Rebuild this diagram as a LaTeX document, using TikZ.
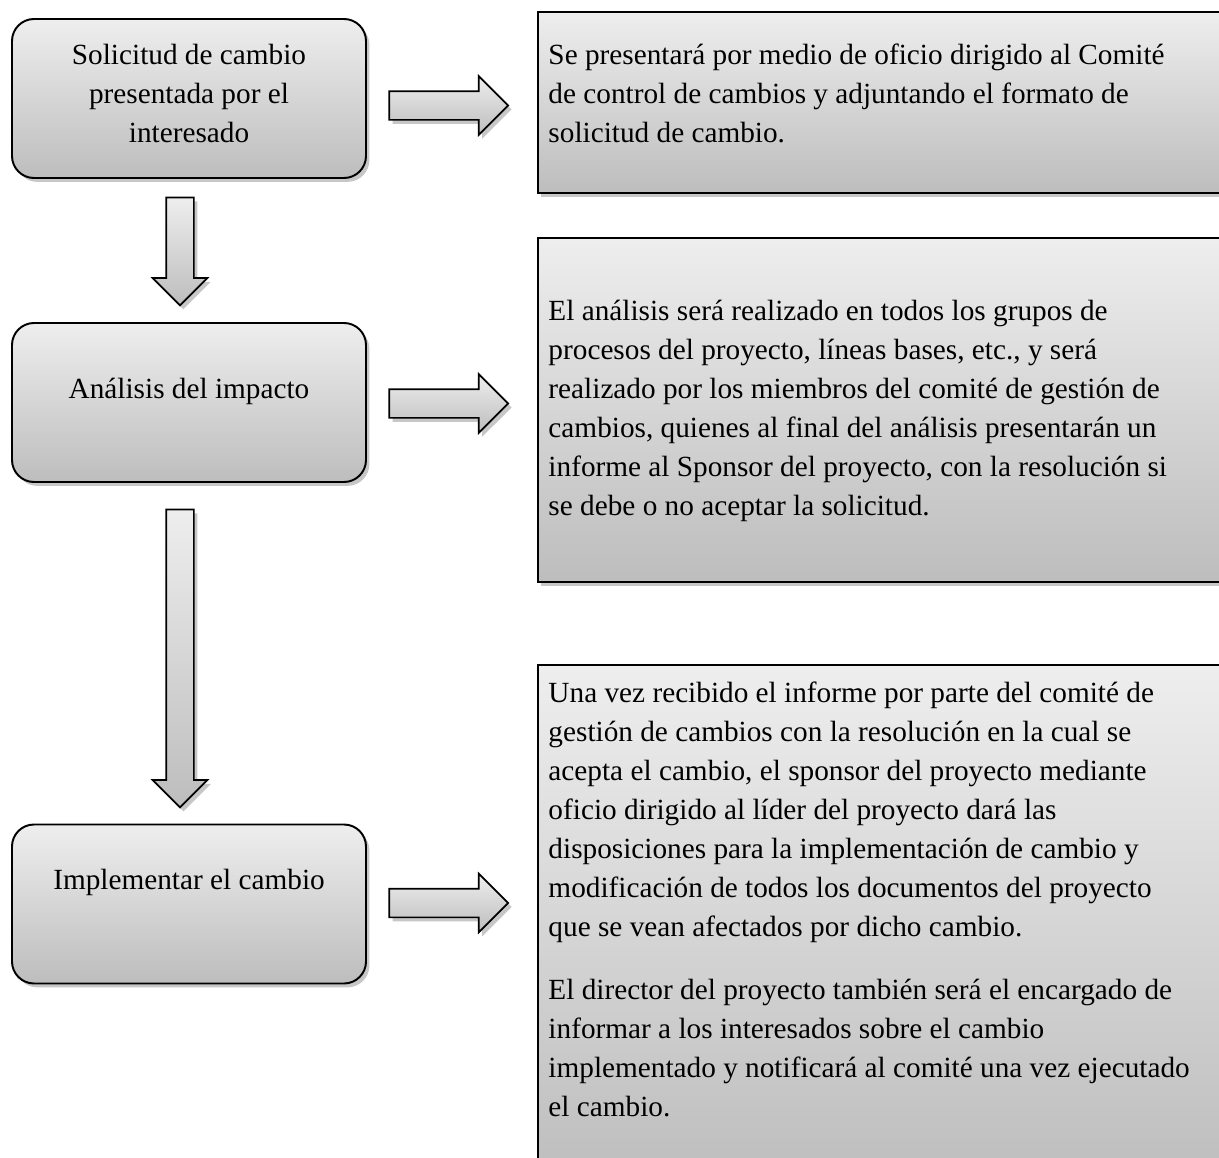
\documentclass[tikz,border=0pt]{standalone}
\usepackage{fontspec}
\setmainfont{Liberation Serif}
\usetikzlibrary{shapes.arrows,shadows,positioning}
\newlength\px
\setlength\px{0.41pt}
\definecolor{grisclaro}{RGB}{238,238,238}
\definecolor{grisoscuro}{RGB}{189,189,189}
\tikzset{
  sombra/.style={drop shadow={shadow xshift=1.4pt, shadow yshift=-1.6pt, opacity=0.22, fill=black}},
  stepbox/.style={draw=black, line width=0.8pt, rounded corners=22*\px, top color=grisclaro, bottom color=grisoscuro, minimum width=354*\px, minimum height=159*\px, sombra},
  notebox/.style={draw=black, line width=0.8pt, top color=grisclaro, bottom color=grisoscuro, minimum width=703*\px, anchor=north west, sombra},
  boxtext/.style={font=\fontsize{12}{16}\selectfont, inner sep=0pt},
  blockarrow/.style={single arrow, draw=black, line width=0.7pt, top color=grisclaro, bottom color=grisoscuro, sombra}
}
\begin{document}
\begin{tikzpicture}[x=0.41pt, y=-0.41pt]
\useasboundingbox (0,0) rectangle (1219,1158);
\clip (0,0) rectangle (1219,1158);
% pasos
\node[stepbox] (solicitud) at (189,98.5) {};
\node[boxtext, align=center, anchor=north] (tSolicitud) at (189,37) {\strut Solicitud de cambio\\presentada por el\\interesado};
\node[stepbox] (analisis) at (189,402.5) {};
\node[boxtext, anchor=north] (tAnalisis) at (189,371) {\strut Análisis del impacto};
\node[stepbox] (implementar) at (189,904) {};
\node[boxtext, anchor=north] (tImplementar) at (189,862) {\strut Implementar el cambio};
% descripciones
\node[notebox, minimum height=181*\px] (notaSolicitud) at (537,11) {};
\node[boxtext, align=left, anchor=north west] (tNotaSolicitud) at (548,37) {\strut Se presentará por medio de oficio dirigido al Comité\\de control de cambios y adjuntando el formato de\\solicitud de cambio.};
\node[notebox, minimum height=344*\px] (notaAnalisis) at (537,237) {};
\node[boxtext, align=left, anchor=north west] (tNotaAnalisis) at (548,293) {\strut El análisis será realizado en todos los grupos de\\procesos del proyecto, líneas bases, etc., y será\\realizado por los miembros del comité de gestión de\\cambios, quienes al final del análisis presentarán un\\informe al Sponsor del proyecto, con la resolución si\\se debe o no aceptar la solicitud.};
\node[notebox, minimum height=520*\px] (notaImplementar) at (537,664) {};
\node[boxtext, align=left, anchor=north west] (tNotaImplementar) at (548,675) {\strut Una vez recibido el informe por parte del comité de\\gestión de cambios con la resolución en la cual se\\acepta el cambio, el sponsor del proyecto mediante\\oficio dirigido al líder del proyecto dará las\\disposiciones para la implementación de cambio y\\modificación de todos los documentos del proyecto\\que se vean afectados por dicho cambio.\\[9.8pt]El director del proyecto también será el encargado de\\informar a los interesados sobre el cambio\\implementado y notificará al comité una vez ejecutado\\el cambio.};
% flechas
\node[blockarrow, inner sep=13*\px, minimum height=108*\px, minimum width=53*\px, single arrow head extend=13.5*\px, shape border rotate=270] (bajaA) at (180,244.5) {};
\node[blockarrow, inner sep=13*\px, minimum height=298*\px, minimum width=53*\px, single arrow head extend=13.5*\px, shape border rotate=270] (bajaB) at (180,651.5) {};
\node[blockarrow, inner sep=13.5*\px, minimum height=119*\px, minimum width=57*\px, single arrow head extend=15*\px] (derechaA) at (441.5,105.5) {};
\node[blockarrow, inner sep=13.5*\px, minimum height=119*\px, minimum width=57*\px, single arrow head extend=15*\px] (derechaB) at (441.5,403.5) {};
\node[blockarrow, inner sep=13.5*\px, minimum height=119*\px, minimum width=57*\px, single arrow head extend=15*\px] (derechaC) at (441.5,903) {};
\end{tikzpicture}
\end{document}
